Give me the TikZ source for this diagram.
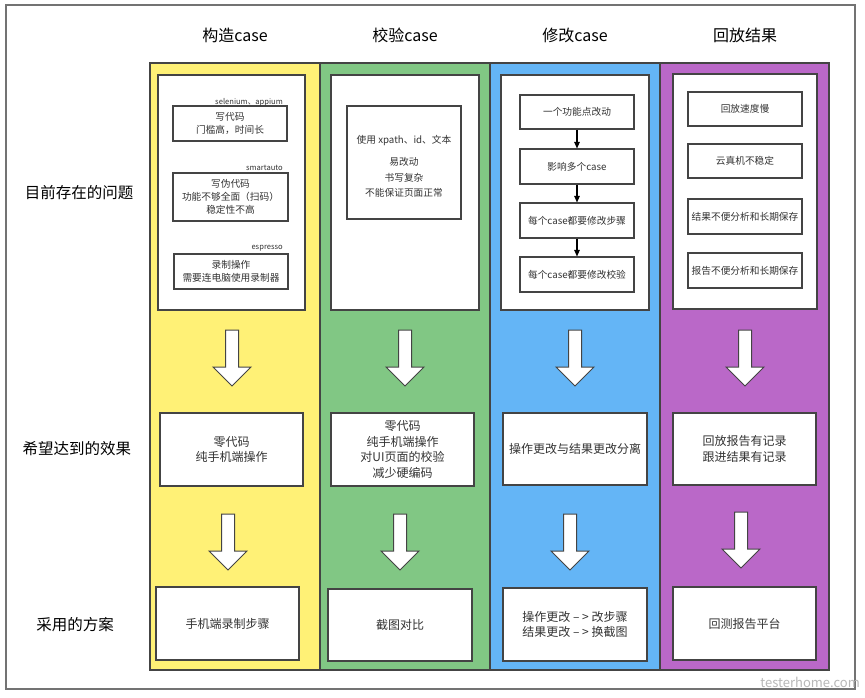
\documentclass[tikz,border=0pt]{standalone}
\usepackage{fontspec}
\setmainfont{Noto Sans CJK SC}
\usetikzlibrary{arrows.meta}
\definecolor{cyel}{HTML}{FFF176}
\definecolor{cgrn}{HTML}{81C784}
\definecolor{cblu}{HTML}{64B5F6}
\definecolor{cpur}{HTML}{BA68C8}
\definecolor{cbrd}{HTML}{444444}
\definecolor{ctxt}{HTML}{333333}
\begin{document}
\begin{tikzpicture}[x=1pt,y=-1pt,
  colbox/.style={draw=cbrd,line width=1.1pt,inner sep=0pt},
  wbox/.style={draw=cbrd,line width=1.1pt,fill=white,inner sep=0pt,text=ctxt,align=center},
  toptxt/.style={font=\fontsize{9.7}{13}\selectfont},
  midtxt/.style={font=\fontsize{12}{15.5}\selectfont},
  hdr/.style={font=\fontsize{16}{18}\selectfont,text=black},
  rowlab/.style={font=\fontsize{15.5}{18}\selectfont,text=black},
  tag/.style={font=\fontsize{7.6}{9}\selectfont,text=ctxt,anchor=east,inner sep=0pt},
  flow/.style={-{Triangle[length=6.5pt,width=5.5pt]},line width=1.1pt,black},
  bigarrow/.pic={\draw[cbrd,line width=1pt,fill=white]
     (-6.5,0) -- (6.5,0) -- (6.5,37) -- (19,37) -- (0,56) -- (-19,37) -- (-6.5,37) -- cycle;}
]
\useasboundingbox (0,0) rectangle (865,698);
\fill[white] (0,0) rectangle (865,698);
\node[draw=black!55,line width=1.2pt,minimum width=849pt,minimum height=684pt,inner sep=0pt] (frame) at (430.5,347) {};

% columns
\node[colbox,fill=cyel,minimum width=170pt,minimum height=607pt] (colA) at (235,366.5) {};
\node[colbox,fill=cgrn,minimum width=170pt,minimum height=607pt] (colB) at (405,366.5) {};
\node[colbox,fill=cblu,minimum width=170pt,minimum height=607pt] (colC) at (575,366.5) {};
\node[colbox,fill=cpur,minimum width=169pt,minimum height=607pt] (colD) at (744.5,366.5) {};

% headers
\node[hdr] (hA) at (235,35) {构造case};
\node[hdr] (hB) at (405,35) {校验case};
\node[hdr] (hC) at (575,35) {修改case};
\node[hdr] (hD) at (745,35) {回放结果};

% row labels
\node[rowlab] (r1) at (79,193) {目前存在的问题};
\node[rowlab] (r2) at (77,449) {希望达到的效果};
\node[rowlab] (r3) at (75,625) {采用的方案};

% top white panels
\node[wbox,minimum width=147pt,minimum height=235pt] (tA) at (231.5,192.5) {};
\node[wbox,minimum width=148pt,minimum height=235pt] (tB) at (405,192.5) {};
\node[wbox,minimum width=148pt,minimum height=235pt] (tC) at (575,192.5) {};
\node[wbox,minimum width=144pt,minimum height=235pt] (tD) at (745,191.5) {};

% column A inner
\node[wbox,toptxt,minimum width=114pt,minimum height=35pt] (a1) at (230,123.5) {写代码\\门槛高，时间长};
\node[wbox,toptxt,minimum width=115pt,minimum height=48pt] (a2) at (230.5,197) {写伪代码\\功能不够全面（扫码）\\稳定性不高};
\node[wbox,toptxt,minimum width=114pt,minimum height=35pt] (a3) at (231,271.5) {录制操作\\需要连电脑使用录制器};
\node[tag] (ta1) at (283,102) {selenium、appium};
\node[tag] (ta2) at (283,168) {smartauto};
\node[tag] (ta3) at (283,248) {espresso};

% column B inner
\node[wbox,minimum width=114pt,minimum height=113pt] (b0) at (404,162.5) {};
\node[text=ctxt,align=center,inner sep=0pt,font=\fontsize{9.7}{15.5}\selectfont] (b0t) at (404,166.5) {使用 xpath、id、文本\\[7pt]易改动\\书写复杂\\不能保证页面正常};

% column C inner
\node[wbox,toptxt,minimum width=114pt,minimum height=34pt] (c1) at (577,112) {一个功能点改动};
\node[wbox,toptxt,minimum width=114pt,minimum height=35pt] (c2) at (577,166.5) {影响多个case};
\node[wbox,toptxt,minimum width=114pt,minimum height=35pt] (c3) at (577,220.5) {每个case都要修改步骤};
\node[wbox,toptxt,minimum width=114pt,minimum height=35pt] (c4) at (577,274.5) {每个case都要修改校验};
\draw[flow] (c1) -- (c2);
\draw[flow] (c2) -- (c3);
\draw[flow] (c3) -- (c4);

% column D inner
\node[wbox,toptxt,minimum width=114pt,minimum height=34pt] (d1) at (745,109) {回放速度慢};
\node[wbox,toptxt,minimum width=114pt,minimum height=34pt] (d2) at (745,161) {云真机不稳定};
\node[wbox,toptxt,minimum width=114pt,minimum height=35pt] (d3) at (745,216.5) {结果不便分析和长期保存};
\node[wbox,toptxt,minimum width=114pt,minimum height=35pt] (d4) at (745,270.5) {报告不便分析和长期保存};

% big arrows row 1
\pic at (232,330) {bigarrow};
\pic at (405,330) {bigarrow};
\pic at (575,330) {bigarrow};
\pic at (745,330) {bigarrow};

% middle row
\node[wbox,midtxt,minimum width=143pt,minimum height=73pt] (m1) at (231.5,449.5) {零代码\\纯手机端操作};
\node[wbox,midtxt,minimum width=143pt,minimum height=73pt] (m2) at (402.5,449.5) {零代码\\纯手机端操作\\对UI页面的校验\\减少硬编码};
\node[wbox,midtxt,minimum width=144pt,minimum height=72pt] (m3) at (575,449) {操作更改与结果更改分离};
\node[wbox,midtxt,minimum width=143pt,minimum height=72pt] (m4) at (744.5,449) {回放报告有记录\\跟进结果有记录};

% big arrows row 2
\pic at (228,514) {bigarrow};
\pic at (400,514) {bigarrow};
\pic at (570,514) {bigarrow};
\pic at (741,512) {bigarrow};

% bottom row
\node[wbox,midtxt,minimum width=143pt,minimum height=73pt] (s1) at (227.5,623.5) {手机端录制步骤};
\node[wbox,midtxt,minimum width=144pt,minimum height=72pt] (s2) at (400,625) {截图对比};
\node[wbox,midtxt,minimum width=144pt,minimum height=73pt,font=\fontsize{12}{14.5}\selectfont] (s3) at (575,624.5) {操作更改 – > 改步骤\\结果更改 – > 换截图};
\node[wbox,midtxt,minimum width=143pt,minimum height=73pt] (s4) at (744.5,623.5) {回测报告平台};

% watermark
\node[text=black!28,font=\fontsize{13}{14}\selectfont\itshape,anchor=east,inner sep=0pt] (wm) at (860,682) {testerhome.com};
\end{tikzpicture}
\end{document}
